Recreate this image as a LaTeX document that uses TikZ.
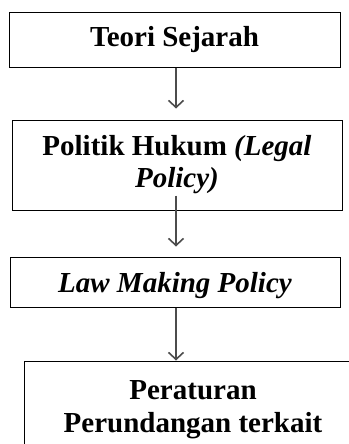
\documentclass[tikz,border=0pt]{standalone}
\usepackage{fontspec}
\setmainfont{Liberation Serif}
\usetikzlibrary{arrows.meta}

\begin{document}
\begin{tikzpicture}[
    x=1pt, y=-1pt,
    stage/.style={draw, rectangle, line width=1pt, align=center, inner sep=0pt,
        font=\fontsize{29}{31}\selectfont\bfseries},
    flow/.style={-{Straight Barb[length=7pt,width=15pt,line width=1.6pt]}, line width=2pt, draw=black!70}
]

\useasboundingbox (0,0) rectangle (348,444);

% Stages
\node[stage, minimum width=331pt, minimum height=54pt] (teori) at (174.5,40) {Teori Sejarah};
\node[stage, minimum width=330pt, minimum height=90pt] (politik) at (177,165) {Politik Hukum \textit{(Legal}\\[1pt] \textit{Policy)}};
\node[stage, minimum width=330pt, minimum height=50pt, text depth=0pt] (lawmaking) at (175,282) {\textit{Law Making Policy}};
\node[stage, minimum width=338pt, minimum height=98pt] (peraturan) at (193,410) {Peraturan\\[2pt] Perundangan terkait};

% Arrows
\draw[flow] (teori.south -| 176,0) -- ([yshift=11pt]politik.north -| 176,0);
\draw[flow] ([yshift=15pt]politik.south -| 176,0) -- ([yshift=10pt]lawmaking.north -| 176,0);
\draw[flow] (lawmaking.south -| 176,0) -- (peraturan.north -| 176,0);

\end{tikzpicture}
\end{document}
